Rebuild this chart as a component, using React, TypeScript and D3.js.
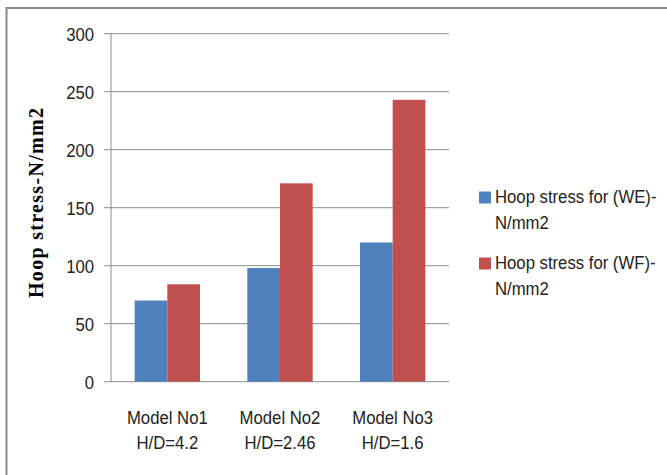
import React from "react";
import * as d3 from "d3";

const categories = ["Model No1\nH/D=4.2", "Model No2\nH/D=2.46", "Model No3\nH/D=1.6"];
const seriesNames = ["Hoop stress for (WE)-\nN/mm2", "Hoop stress for (WF)-\nN/mm2"];
const weValues = [70, 98, 120];
const wfValues = [84, 171, 243];
const yTicks = [0, 50, 100, 150, 200, 250, 300];
const colors = ["#4F81BD", "#C0504D"];

const W = 667;
const H = 475;
const left = 111;
const right = 449;
const top = 33.7;
const bottom = 381.7;
const font = "'Liberation Sans', Arial, sans-serif";
const FS = 19;
const SX = 0.88;

function CText({ x, y, lines, anchor = "start", lineH = 25, dy = "0" }: any) {
  return (
    <g transform={`translate(${x},${y}) scale(${SX},1)`}>
      <text textAnchor={anchor} fontFamily={font} fontSize={FS} fill="#222">
        {lines.map((l: string, i: number) => (
          <tspan key={i} x={0} y={i * lineH} dy={dy}>
            {l}
          </tspan>
        ))}
      </text>
    </g>
  );
}

export default function App() {
  const y = d3.scaleLinear().domain([0, 300]).range([bottom, top]);
  const x0 = d3.scaleBand<string>().domain(categories).range([left, right]).paddingInner(0.42).paddingOuter(0.21);
  const x1 = d3.scaleBand<number>().domain([0, 1]).range([0, x0.bandwidth()]);
  const series = [weValues, wfValues];

  return (
    <svg width={W} height={H} style={{ position: "absolute", left: 0, top: 0, background: "#fff" }}>
      <rect x={0} y={0} width={W} height={H} fill="#fff" />
      {/* outer frame */}
      <path d={`M6.5,${H + 5} L6.5,8 L${W + 5},8`} fill="none" stroke="#8a8a8a" strokeWidth={2} />
      {/* gridlines and ticks */}
      {yTicks.map((t) => (
        <g key={t}>
          <line x1={left - 7} x2={right} y1={y(t)} y2={y(t)} stroke="#8c8c8c" strokeWidth={1} />
          <CText x={94} y={y(t)} lines={[String(t)]} anchor="end" dy="0.36em" />
        </g>
      ))}
      <line x1={left} x2={left} y1={top} y2={bottom} stroke="#8c8c8c" strokeWidth={1} />
      {/* bars */}
      {series.map((vals, si) =>
        categories.map((c, ci) => (
          <rect
            key={`${si}-${ci}`}
            x={(x0(c) as number) + (x1(si) as number)}
            y={y(vals[ci])}
            width={x1.bandwidth()}
            height={bottom - y(vals[ci])}
            fill={colors[si]}
          />
        ))
      )}
      {/* x labels */}
      {categories.map((c) => {
        const cx = (x0(c) as number) + x0.bandwidth() / 2;
        return <CText key={c} x={cx} y={424} lines={c.split("\n")} anchor="middle" lineH={25} />;
      })}
      {/* y title */}
      <text
        transform={`translate(43,203) rotate(-90)`}
        textAnchor="middle"
        fontFamily="'Liberation Serif', 'Times New Roman', serif"
        fontWeight="bold"
        fontSize={20}
        textLength={190}
        lengthAdjust="spacing"
        fill="#000"
      >
        Hoop stress-N/mm2
      </text>
      {/* legend */}
      {seriesNames.map((name, i) => {
        const by = 203 + i * 66;
        return (
          <g key={name}>
            <rect x={479} y={by - 11.5} width={12} height={12} fill={colors[i]} />
            <CText x={495} y={by} lines={name.split("\n")} lineH={26} />
          </g>
        );
      })}
    </svg>
  );
}
